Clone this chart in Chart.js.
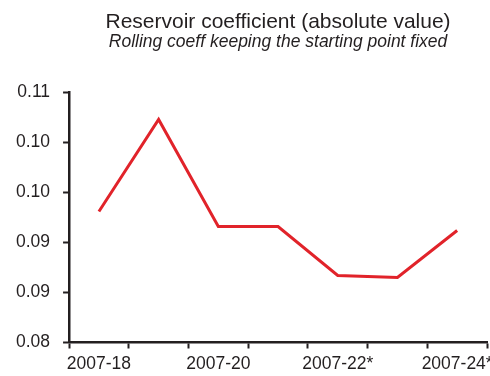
<!DOCTYPE html>
<html>
<head>
<meta charset="utf-8">
<script src="https://cdn.jsdelivr.net/npm/chart.js@4.4.1/dist/chart.umd.min.js"></script>
<style>
  html, body { margin: 0; padding: 0; background: #ffffff; }
  canvas { display: block; }
</style>
</head>
<body>
<canvas id="chart" width="490" height="376"></canvas>
<script>
// Rolling reservoir coefficient, start point fixed at 2007
const periods = ['2007-18', '2007-19', '2007-20', '2007-21', '2007-22*', '2007-23*', '2007-24*'];
const coefficient = [0.0931, 0.1023, 0.0916, 0.0916, 0.0867, 0.0865, 0.0912];
const yTickLabels = ['0.08', '0.09', '0.09', '0.10', '0.10', '0.11'];

const FONT = "'Liberation Sans', Arial, Helvetica, sans-serif";
const INK = '#231f20';

new Chart(document.getElementById('chart'), {
  type: 'line',
  data: {
    labels: periods,
    datasets: [{
      data: coefficient,
      borderColor: '#e1232a',
      borderWidth: 3,
      pointRadius: 0,
      tension: 0,
      fill: false
    }]
  },
  options: {
    responsive: false,
    animation: false,
    layout: { padding: { left: 3, right: 3, top: 0, bottom: -4 } },
    plugins: {
      legend: { display: false },
      tooltip: { enabled: false },
      title: {
        display: true,
        text: 'Reservoir coefficient (absolute value)',
        fullSize: false,
        color: INK,
        font: { family: FONT, size: 21, weight: 'normal', lineHeight: 1.0 },
        padding: { top: 12, bottom: 0 }
      },
      subtitle: {
        display: true,
        text: 'Rolling coeff keeping the starting point fixed',
        fullSize: false,
        color: INK,
        font: { family: FONT, size: 17.5, style: 'italic', lineHeight: 1.0 },
        padding: { top: 0, bottom: 42 }
      }
    },
    scales: {
      x: {
        offset: true,
        border: { display: true, color: INK, width: 2.5 },
        grid: {
          offset: true,
          drawOnChartArea: false,
          drawTicks: true,
          tickLength: 6,
          tickWidth: 2,
          tickColor: INK
        },
        ticks: {
          autoSkip: false,
          maxRotation: 0,
          padding: 7,
          color: INK,
          font: { family: FONT, size: 17.5, lineHeight: 1.0 },
          callback: (value, index) => (index % 2 === 0 ? periods[index] : '')
        },
        afterFit: (scale) => { scale.paddingRight = 0; scale.paddingLeft = 0; }
      },
      y: {
        min: 0.08,
        max: 0.105,
        border: { display: true, color: INK, width: 2.5 },
        grid: {
          drawOnChartArea: false,
          drawTicks: true,
          tickLength: 6,
          tickWidth: 2,
          tickColor: INK
        },
        ticks: {
          stepSize: 0.005,
          padding: 13,
          color: INK,
          font: { family: FONT, size: 17.5 },
          callback: (value, index) => yTickLabels[index]
        }
      }
    }
  }
});
</script>
</body>
</html>
